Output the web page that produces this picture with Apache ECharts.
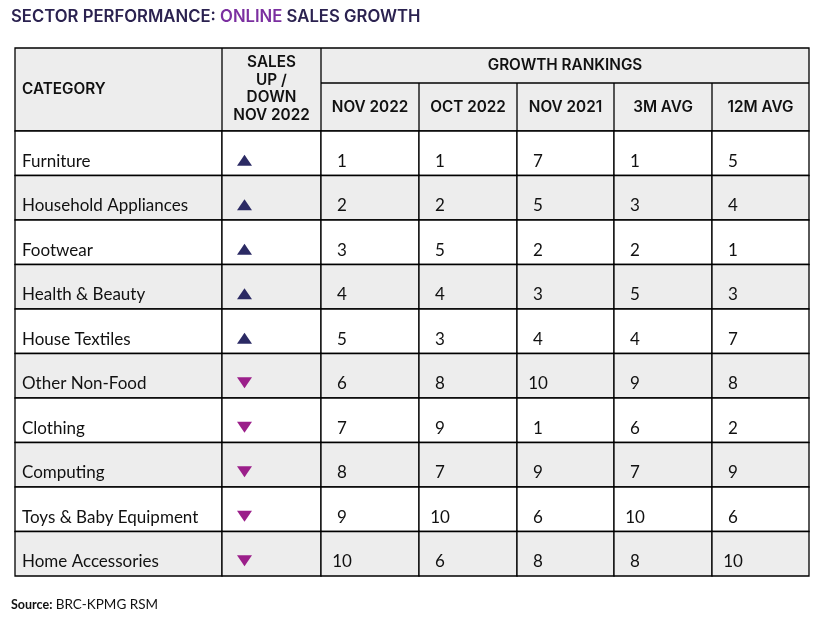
<!DOCTYPE html>
<html><head><meta charset="utf-8">
<script src="https://cdn.jsdelivr.net/npm/echarts@6/dist/echarts.min.js"></script>
<style>html,body{margin:0;padding:0;background:#fff}#c{width:836px;height:617px}</style>
</head><body><div id="c"></div>
<script>
// ---- data ----
const categories = ['Furniture','Household Appliances','Footwear','Health & Beauty','House Textiles','Other Non-Food','Clothing','Computing','Toys & Baby Equipment','Home Accessories'];
const salesDirection = ['up','up','up','up','up','down','down','down','down','down'];
const rankNov2022 = [1,2,3,4,5,6,7,8,9,10];
const rankOct2022 = [1,2,5,4,3,8,9,7,10,6];
const rankNov2021 = [7,5,2,3,4,10,1,9,6,8];
const rank3mAvg = [1,3,2,5,4,9,6,7,10,8];
const rank12mAvg = [5,4,1,3,7,8,2,9,6,10];
const rankHeaders = ['NOV 2022','OCT 2022','NOV 2021','3M AVG','12M AVG'];
const rankColumns = [rankNov2022, rankOct2022, rankNov2021, rank3mAvg, rank12mAvg];

// ---- layout ----
const X0 = 15, X1 = 809, Y0 = 48, YMID = 83, YHB = 131, Y1 = 576;
const colEdges = [0, 207, 306, 404, 502, 599, 697, 794]; // relative to X0
const HEAD_FONT = 'Inter';
const BODY_FONT = 'Lato';
const UP = '#2b2a64', DOWN = '#9b1f8a';
const GREY = '#ededed';

const cells = [];
categories.forEach((c, r) => {
  cells.push([0, r, c]);
  cells.push([1, r, salesDirection[r]]);
  rankColumns.forEach((col, k) => cells.push([2 + k, r, String(col[r])]));
});

function renderItem(params, api) {
  const c = api.value(0), r = api.value(1);
  const left = api.coord([colEdges[c], r])[0];
  const right = api.coord([colEdges[c + 1], r])[0];
  const cy = api.coord([0, r])[1];
  const h = api.size([0, 1])[1];
  const top = cy - h / 2;
  const children = [{
    type: 'rect',
    shape: { x: left, y: top, width: right - left, height: h },
    style: { fill: r % 2 === 1 ? GREY : '#fff', stroke: '#000', lineWidth: 1.3 }
  }];
  const ty = cy + 8;
  const val = cells[params.dataIndex][2];
  if (c === 0) {
    children.push({ type: 'text', style: { text: val, x: left + 7, y: ty, verticalAlign: 'middle', align: 'left', font: '17px ' + BODY_FONT, fill: '#111' } });
  } else if (c === 1) {
    const tx = left + 22.5, w = 7.5, hh = 5.5;
    const pts = val === 'up'
      ? [[tx, ty - hh - 1], [tx + w, ty + hh - 1], [tx - w, ty + hh - 1]]
      : [[tx - w, ty - hh - 1], [tx + w, ty - hh - 1], [tx, ty + hh - 1]];
    children.push({ type: 'polygon', shape: { points: pts }, style: { fill: val === 'up' ? UP : DOWN } });
  } else {
    children.push({ type: 'text', style: { text: val, x: left + 21, y: ty, verticalAlign: 'middle', align: 'center', font: '17px ' + BODY_FONT, fill: '#111' } });
  }
  return { type: 'group', children };
}

const graphics = [];
// title
graphics.push({ type: 'text', left: 11, top: 8, style: { rich: { a: { font: '600 16.7px ' + HEAD_FONT, fill: '#2b2250' }, b: { font: '600 16.7px ' + HEAD_FONT, fill: '#7b2fa0' } }, text: '{a|SECTOR PERFORMANCE: }{b|ONLINE}{a| SALES GROWTH}' } });
// header background & borders
const hx = e => X0 + e;
graphics.push({ type: 'rect', shape: { x: X0, y: Y0, width: X1 - X0, height: YHB - Y0 }, style: { fill: GREY, stroke: '#000', lineWidth: 1.3 } });
graphics.push({ type: 'line', shape: { x1: hx(colEdges[1]), y1: Y0, x2: hx(colEdges[1]), y2: YHB }, style: { stroke: '#000', lineWidth: 1.3 } });
graphics.push({ type: 'line', shape: { x1: hx(colEdges[2]), y1: Y0, x2: hx(colEdges[2]), y2: YHB }, style: { stroke: '#000', lineWidth: 1.3 } });
graphics.push({ type: 'line', shape: { x1: hx(colEdges[2]), y1: YMID, x2: X1, y2: YMID }, style: { stroke: '#000', lineWidth: 1.3 } });
for (let i = 3; i < 7; i++) {
  graphics.push({ type: 'line', shape: { x1: hx(colEdges[i]), y1: YMID, x2: hx(colEdges[i]), y2: YHB }, style: { stroke: '#000', lineWidth: 1.3 } });
}
const hfont = '600 15.3px ' + HEAD_FONT;
graphics.push({ type: 'text', style: { text: 'CATEGORY', x: X0 + 7, y: 89, verticalAlign: 'middle', font: hfont, fill: '#111' } });
graphics.push({ type: 'text', style: { text: 'SALES\nUP /\nDOWN\nNOV 2022', x: hx((colEdges[1] + colEdges[2]) / 2), y: 89, align: 'center', verticalAlign: 'middle', lineHeight: 17.5, font: hfont, fill: '#111' } });
graphics.push({ type: 'text', style: { text: 'GROWTH RANKINGS', x: hx((colEdges[2] + colEdges[7]) / 2), y: 65, align: 'center', verticalAlign: 'middle', font: hfont, fill: '#111' } });
rankHeaders.forEach((t, k) => {
  graphics.push({ type: 'text', style: { text: t, x: hx((colEdges[2 + k] + colEdges[3 + k]) / 2), y: 107, align: 'center', verticalAlign: 'middle', font: hfont, fill: '#111' } });
});
// source
graphics.push({ type: 'text', left: 11, top: 598, style: { rich: { a: { font: 'bold 12.5px ' + BODY_FONT, fill: '#111' }, b: { font: '13.5px ' + BODY_FONT, fill: '#111' } }, text: '{a|Source:} {b|BRC-KPMG RSM}' } });

const chart = echarts.init(document.getElementById('c'), null, { renderer: 'canvas' });
chart.setOption({
  animation: false,
  grid: { left: X0, right: 836 - X1, top: YHB, bottom: 617 - Y1 },
  xAxis: { type: 'value', min: 0, max: colEdges[colEdges.length - 1], show: false },
  yAxis: { type: 'category', data: categories, inverse: true, show: false },
  series: [{ type: 'custom', renderItem, data: cells, encode: { x: 0, y: 1 } }],
  graphic: graphics
});
</script></body></html>
